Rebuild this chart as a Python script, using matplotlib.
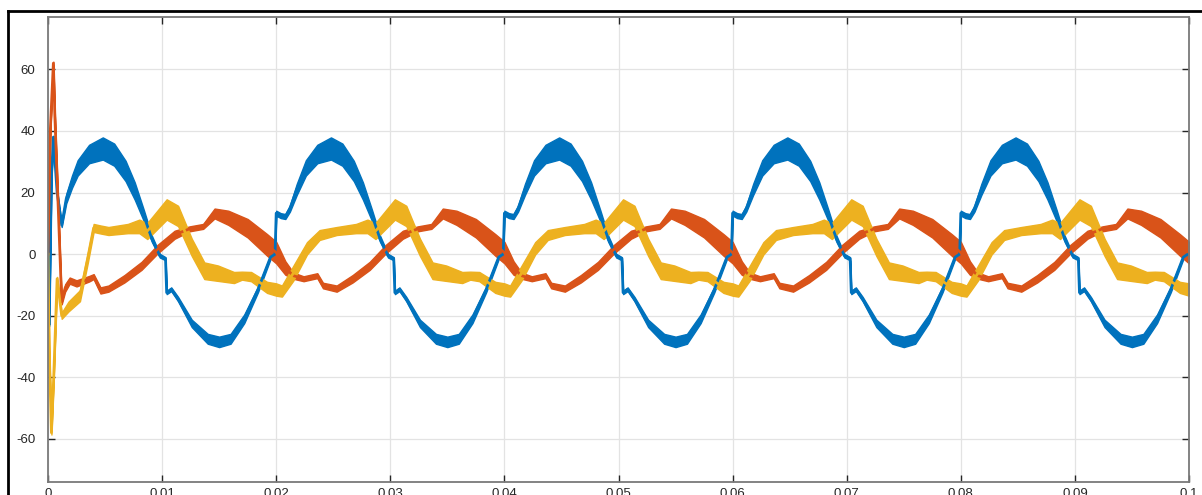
import numpy as np
from matplotlib import pyplot as plt
from matplotlib.lines import Line2D

# ---------------- data ----------------
# start-up transient knots (time s, value, half width of the ripple band)
blue_t0 = [0.0, 0.0001, 0.0003, 0.00047, 0.0008, 0.0012, 0.0016, 0.0021]
blue_v0 = [0.0, -23.0, 25.0, 38.0, 20.0, 9.4, 18.0, 23.5]
blue_w0 = [0.3, 0.4, 0.4, 0.4, 0.5, 0.6, 1.5, 2.0]

orange_t0 = [0.0, 0.0002, 0.00047, 0.0006, 0.0012, 0.0015, 0.0019, 0.0025, 0.0036, 0.0040, 0.0046]
orange_v0 = [0.0, 40.0, 62.0, 45.0, -15.5, -11.0, -8.6, -9.5, -8.0, -7.3, -11.8]
orange_w0 = [0.3, 0.4, 0.5, 0.5, 0.8, 1.2, 1.0, 1.0, 0.9, 0.8, 1.0]

yellow_t0 = [0.0, 0.0001, 0.0003, 0.0005, 0.0008, 0.0012, 0.0018, 0.0028, 0.0035, 0.0040, 0.0046]
yellow_v0 = [0.0, -30.0, -58.0, -40.0, -8.0, -20.0, -17.0, -13.5, -1.0, 8.5, 8.0]
yellow_w0 = [0.3, 0.4, 0.6, 0.5, 0.6, 1.0, 1.6, 1.8, 1.6, 1.3, 1.3]

# one steady-state 50 Hz cycle (time from cycle start, value, half width)
blue_tc = [0.0000, 0.0004, 0.0008, 0.0012, 0.0018, 0.0026, 0.0036, 0.0048, 0.0058, 0.0068,
           0.0076, 0.0084, 0.0091, 0.0098, 0.0103, 0.0104, 0.0108, 0.0114, 0.0126, 0.0140,
           0.0150, 0.0160, 0.0172, 0.0184, 0.0195, 0.0199]
blue_vc = [13.3, 12.5, 12.2, 14.8, 21.0, 28.0, 32.5, 34.3, 32.3, 27.0,
           20.5, 12.5, 5.0, -0.5, -1.5, -12.5, -11.4, -14.6, -22.5, -27.5,
           -28.5, -27.5, -21.0, -11.5, -1.0, 0.0]
blue_wc = [0.8, 0.8, 0.8, 1.0, 1.8, 2.5, 3.0, 3.6, 3.6, 3.3,
           2.8, 1.8, 1.0, 0.6, 0.5, 0.5, 0.6, 0.7, 1.2, 1.6,
           1.7, 1.6, 1.4, 0.9, 0.6, 0.5]

orange_tc = [0.0000, 0.0008, 0.0015, 0.0024, 0.0036, 0.0041, 0.0053, 0.0067, 0.0082, 0.0096,
             0.0111, 0.0124, 0.0136, 0.0146, 0.0158, 0.0175, 0.0192, 0.0200]
orange_vc = [0.5, -4.5, -7.0, -8.0, -7.0, -10.2, -11.2, -8.0, -3.8, 1.6,
             6.3, 8.2, 9.0, 13.2, 11.8, 8.4, 3.0, 0.5]
orange_wc = [3.5, 2.2, 1.0, 0.8, 0.8, 0.9, 1.0, 1.2, 1.3, 1.4,
             1.3, 0.8, 0.8, 1.6, 2.3, 3.0, 3.5, 3.5]

yellow_tc = [0.0000, 0.0005, 0.0015, 0.0027, 0.0038, 0.0053, 0.0070, 0.0080, 0.0087, 0.0104,
             0.0114, 0.0126, 0.0137, 0.0149, 0.0163, 0.0170, 0.0178, 0.0192, 0.0200]
yellow_vc = [-11.5, -12.0, -6.2, 1.9, 6.2, 7.5, 8.3, 9.0, 7.5, 14.5,
             12.4, 2.2, -5.4, -6.2, -7.6, -7.0, -7.3, -10.8, -11.5]
yellow_wc = [2.0, 1.8, 2.4, 2.0, 1.6, 1.3, 1.5, 2.2, 2.6, 3.3,
             3.3, 2.8, 2.7, 2.5, 1.8, 1.3, 1.5, 1.8, 2.0]

cycle_starts = [0.0, 0.02, 0.04, 0.06, 0.08]

xticks = [0, 0.01, 0.02, 0.03, 0.04, 0.05, 0.06, 0.07, 0.08, 0.09, 0.1]
xlabels = ['0', '0.01', '0.02', '0.03', '0.04', '0.05', '0.06', '0.07', '0.08', '0.09', '0.1']
yticks = [-60, -40, -20, 0, 20, 40, 60]

colors = ['#0072BD', '#D95319', '#EDB120']


def build(t0, v0, w0, tc, vc, wc):
    # transient first, then the steady cycle repeated from each cycle start
    t, v, w = list(t0), list(v0), list(w0)
    for c in cycle_starts:
        for a, b, d in zip(tc, vc, wc):
            if c + a > t0[-1]:
                t.append(c + a)
                v.append(b)
                w.append(d)
    return np.array(t), np.array(v), np.array(w)


series = [
    build(blue_t0, blue_v0, blue_w0, blue_tc, blue_vc, blue_wc),
    build(orange_t0, orange_v0, orange_w0, orange_tc, orange_vc, orange_wc),
    build(yellow_t0, yellow_v0, yellow_w0, yellow_tc, yellow_vc, yellow_wc),
]

# ---------------- plot ----------------
plt.rcParams['font.family'] = ['Liberation Sans', 'DejaVu Sans']
plt.rcParams['axes.unicode_minus'] = False

fig = plt.figure(figsize=(12.02, 4.95), dpi=100)
ax = fig.add_axes([48 / 1202, 13 / 495, 1141 / 1202, 465 / 495])

for (t, v, w), col in zip(series, colors):
    ax.fill_between(t, v - w, v + w, color=col, linewidth=1.0, edgecolor=col)
    ax.plot(t, v, color=col, linewidth=2.0, solid_joinstyle='round')

ax.set_xlim(0, 0.1)
ax.set_ylim(-74, 77)
ax.set_xticks(xticks)
ax.set_xticklabels(xlabels)
ax.set_yticks(yticks)
ax.grid(True, color='#e3e3e3', linewidth=0.9)
ax.set_axisbelow(True)
ax.tick_params(direction='in', top=True, right=True, length=5, width=1,
               color='#262626', labelcolor='#262626', labelsize=9.5)
ax.tick_params(axis='y', pad=9)
ax.tick_params(axis='x', pad=4)
for s in ax.spines.values():
    s.set_color('#7a7a7a')
    s.set_linewidth(1.3)

# outer black frame of the screenshot
fig.add_artist(Line2D([8 / 1202, 8 / 1202], [0, 1 - 11 / 495], transform=fig.transFigure,
                      color='black', linewidth=2))
fig.add_artist(Line2D([8 / 1202, 1], [1 - 11 / 495, 1 - 11 / 495], transform=fig.transFigure,
                      color='black', linewidth=2))

fig.savefig('out.png', dpi=100)
